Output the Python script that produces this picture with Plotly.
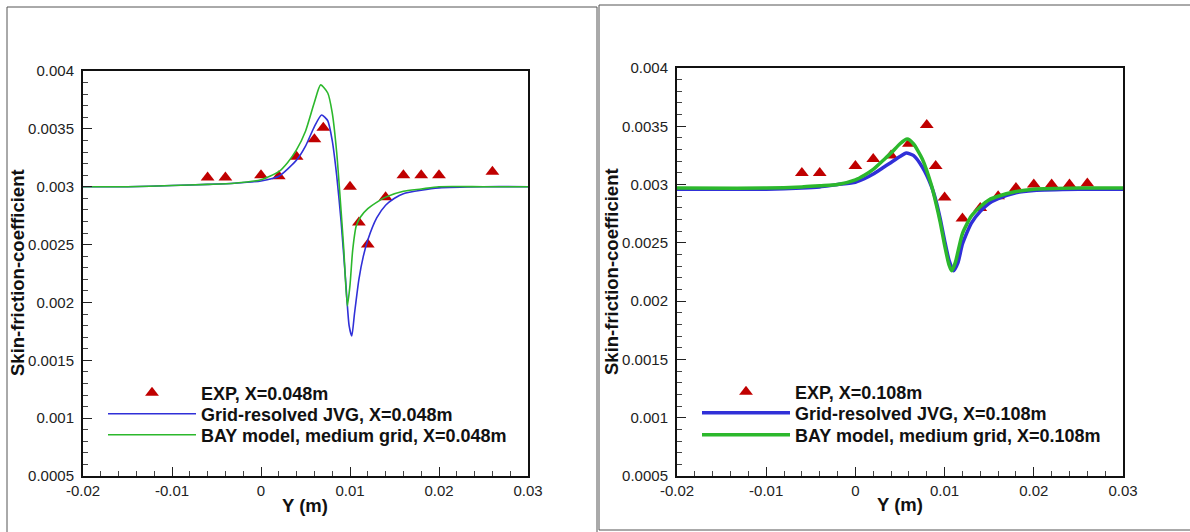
import plotly.graph_objects as go

FONT = "Liberation Sans, Arial, sans-serif"
W, H = 1190, 532

# ---- left panel, X=0.048m ----
exp1_y = [-0.006, -0.004, 0.0, 0.002, 0.004, 0.006, 0.007, 0.010, 0.011, 0.012,
          0.014, 0.016, 0.018, 0.020, 0.026]
exp1_cf = [0.00308, 0.00308, 0.00310, 0.00309, 0.00326, 0.00341, 0.00351, 0.00300,
           0.00269, 0.00250, 0.00291, 0.00310, 0.00310, 0.00310, 0.00313]

jvg1_y = [-0.02, -0.015, -0.01, -0.006, -0.003, 0.0, 0.002, 0.004, 0.005, 0.006,
          0.0068, 0.0075, 0.008, 0.0085, 0.009, 0.0095, 0.0099, 0.0102, 0.0105,
          0.011, 0.0115, 0.012, 0.013, 0.014, 0.015, 0.016, 0.018, 0.02, 0.025, 0.03]
jvg1_cf = [0.00300, 0.00300, 0.00301, 0.00302, 0.00303, 0.00305, 0.00309, 0.00323,
           0.00335, 0.00352, 0.00362, 0.00357, 0.00340, 0.00310, 0.00270, 0.00220,
           0.00180, 0.00171, 0.00190, 0.00220, 0.00240, 0.00254, 0.00273, 0.00284,
           0.00290, 0.00294, 0.00297, 0.00299, 0.00300, 0.00300]

bay1_y = [-0.02, -0.015, -0.01, -0.006, -0.003, 0.0, 0.002, 0.003, 0.004, 0.005,
          0.006, 0.0067, 0.0075, 0.008, 0.0085, 0.009, 0.0093, 0.0097, 0.0100,
          0.0103, 0.0107, 0.0112, 0.012, 0.0133, 0.014, 0.016, 0.018, 0.02, 0.025, 0.03]
bay1_cf = [0.00300, 0.00300, 0.00301, 0.00302, 0.00303, 0.00306, 0.00313, 0.00321,
           0.00332, 0.00348, 0.00373, 0.00388, 0.00381, 0.00364, 0.00330, 0.00279,
           0.00246, 0.00197, 0.00215, 0.00245, 0.00266, 0.00274, 0.00281, 0.00288,
           0.00291, 0.00296, 0.00298, 0.00300, 0.00300, 0.00300]

# ---- right panel, X=0.108m ----
exp2_y = [-0.006, -0.004, 0.0, 0.002, 0.004, 0.006, 0.008, 0.009, 0.010, 0.012,
          0.014, 0.016, 0.018, 0.020, 0.022, 0.024, 0.026]
exp2_cf = [0.00310, 0.00310, 0.00316, 0.00322, 0.00325, 0.00335, 0.00351, 0.00316,
           0.00289, 0.00271, 0.00280, 0.00290, 0.00297, 0.00300, 0.00300, 0.00300,
           0.00301]

jvg2_y = [-0.02, -0.01, -0.006, -0.004, -0.002, 0.0, 0.001, 0.002, 0.003, 0.004,
          0.005, 0.0057, 0.0065, 0.0075, 0.0085, 0.009, 0.0095, 0.010, 0.0105,
          0.011, 0.0115, 0.012, 0.013, 0.014, 0.015, 0.016, 0.018, 0.02, 0.025, 0.03]
jvg2_cf = [0.00296, 0.00296, 0.00297, 0.00298, 0.00300, 0.00302, 0.00305, 0.00309,
           0.00314, 0.00319, 0.00324, 0.00327, 0.00325, 0.00315, 0.00299, 0.00287,
           0.00271, 0.00252, 0.00235, 0.00226, 0.00233, 0.00249, 0.00267, 0.00277,
           0.00284, 0.00288, 0.00293, 0.00295, 0.00296, 0.00296]

bay2_y = [-0.02, -0.01, -0.006, -0.004, -0.002, 0.0, 0.001, 0.002, 0.003, 0.004,
          0.005, 0.0058, 0.0065, 0.0075, 0.0085, 0.009, 0.0095, 0.010, 0.0105,
          0.0108, 0.0112, 0.012, 0.013, 0.014, 0.015, 0.016, 0.018, 0.02, 0.025, 0.03]
bay2_cf = [0.00297, 0.00297, 0.00298, 0.00299, 0.00300, 0.00304, 0.00308, 0.00313,
           0.00320, 0.00327, 0.00335, 0.00339, 0.00335, 0.00322, 0.00300, 0.00285,
           0.00268, 0.00248, 0.00231, 0.00226, 0.00233, 0.00258, 0.00273, 0.00281,
           0.00287, 0.00290, 0.00294, 0.00296, 0.00297, 0.00297]

x_ticks = [-0.02, -0.01, 0.0, 0.01, 0.02, 0.03]
x_labels = ["-0.02", "-0.01", "0", "0.01", "0.02", "0.03"]
y_ticks = [0.0005, 0.001, 0.0015, 0.002, 0.0025, 0.003, 0.0035, 0.004]
y_labels = ["0.0005", "0.001", "0.0015", "0.002", "0.0025", "0.003", "0.0035", "0.004"]

RED = "#c00000"
BLUE = "#3030d8"
GREEN = "#2cb82c"


def px(x):
    return x / W


def py(y):
    return 1 - y / H


fig = go.Figure()

# left
fig.add_trace(go.Scatter(x=exp1_y, y=exp1_cf, mode="markers", name="EXP, X=0.048m",
                         marker=dict(symbol="triangle-up", size=12, color=RED),
                         xaxis="x", yaxis="y", legend="legend"))
fig.add_trace(go.Scatter(x=jvg1_y, y=jvg1_cf, mode="lines", name="Grid-resolved JVG, X=0.048m",
                         line=dict(color=BLUE, width=1.6, shape="spline", smoothing=0.6),
                         xaxis="x", yaxis="y", legend="legend2"))
fig.add_trace(go.Scatter(x=bay1_y, y=bay1_cf, mode="lines", name="BAY model, medium grid, X=0.048m",
                         line=dict(color=GREEN, width=1.6, shape="spline", smoothing=0.6),
                         xaxis="x", yaxis="y", legend="legend3"))

# right
fig.add_trace(go.Scatter(x=exp2_y, y=exp2_cf, mode="markers", name="EXP, X=0.108m",
                         marker=dict(symbol="triangle-up", size=12, color=RED),
                         xaxis="x2", yaxis="y2", legend="legend4"))
fig.add_trace(go.Scatter(x=jvg2_y, y=jvg2_cf, mode="lines", name="Grid-resolved JVG, X=0.108m",
                         line=dict(color=BLUE, width=3.5, shape="spline", smoothing=0.6),
                         xaxis="x2", yaxis="y2", legend="legend5"))
fig.add_trace(go.Scatter(x=bay2_y, y=bay2_cf, mode="lines", name="BAY model, medium grid, X=0.108m",
                         line=dict(color=GREEN, width=3.5, shape="spline", smoothing=0.6),
                         xaxis="x2", yaxis="y2", legend="legend6"))

tickfont = dict(family=FONT, size=15, color="#222")


def xaxis(domain, anchor):
    return dict(domain=domain, anchor=anchor, range=[-0.02, 0.03], automargin=False,
                tickmode="array", tickvals=x_ticks, ticktext=x_labels,
                ticks="inside", ticklen=9, tickwidth=1.2, tickcolor="#222",
                minor=dict(tickmode="linear", tick0=-0.02, dtick=0.002,
                           ticks="inside", ticklen=5, tickwidth=1, tickcolor="#444"),
                showline=True, linewidth=2, linecolor="#111", mirror=True,
                showgrid=False, zeroline=False, tickfont=tickfont)


def yaxis(domain, anchor):
    return dict(domain=domain, anchor=anchor, range=[0.0005, 0.004], automargin=False,
                tickmode="array", tickvals=y_ticks, ticktext=y_labels,
                ticks="inside", ticklen=9, tickwidth=1.2, tickcolor="#222",
                ticklabelstandoff=4,
                minor=dict(tickmode="linear", tick0=0.0005, dtick=0.0001,
                           ticks="inside", ticklen=5, tickwidth=1, tickcolor="#444"),
                showline=True, linewidth=2, linecolor="#111", mirror=True,
                showgrid=False, zeroline=False, tickfont=tickfont)


legfont = dict(family=FONT, size=18, color="#111", weight="bold")


def leg(x, y):
    return dict(x=px(x), y=py(y), xanchor="left", yanchor="middle",
                bgcolor="rgba(0,0,0,0)", font=legfont, itemwidth=88)


title_font = dict(family=FONT, size=18.5, color="#111")

fig.update_layout(
    width=W, height=H,
    margin=dict(l=0, r=0, t=0, b=0, pad=0, autoexpand=False),
    paper_bgcolor="white", plot_bgcolor="white",
    showlegend=True,
    xaxis=xaxis([px(83), px(528)], "y"),
    yaxis=yaxis([py(476), py(71)], "x"),
    xaxis2=xaxis([px(677), px(1123)], "y2"),
    yaxis2=yaxis([py(476), py(68)], "x2"),
    legend=leg(103, 393),
    legend2=leg(103, 414),
    legend3=leg(103, 435),
    legend4=leg(697, 392),
    legend5=leg(697, 413),
    legend6=leg(697, 435),
    shapes=[
        dict(type="rect", xref="paper", yref="paper", x0=px(7), x1=px(597),
             y0=-0.05, y1=py(7), line=dict(color="#555", width=1), layer="below"),
        dict(type="rect", xref="paper", yref="paper", x0=px(599), x1=1.05,
             y0=py(530), y1=py(5), line=dict(color="#555", width=1), layer="below"),
    ],
    annotations=[
        dict(text="<b>Skin-friction-coefficient</b>", x=px(17), y=py(273), xref="paper", yref="paper",
             xanchor="center", yanchor="middle", textangle=-90, showarrow=False, font=title_font),
        dict(text="<b>Skin-friction-coefficient</b>", x=px(611), y=py(272), xref="paper", yref="paper",
             xanchor="center", yanchor="middle", textangle=-90, showarrow=False, font=title_font),
        dict(text="<b>Y (m)</b>", x=px(305), y=py(505), xref="paper", yref="paper",
             xanchor="center", yanchor="middle", showarrow=False, font=title_font),
        dict(text="<b>Y (m)</b>", x=px(900), y=py(504), xref="paper", yref="paper",
             xanchor="center", yanchor="middle", showarrow=False, font=title_font),
    ],
)

fig.write_html("out.html", config={"displayModeBar": False},
               post_script="document.body.style.margin = '0';")
